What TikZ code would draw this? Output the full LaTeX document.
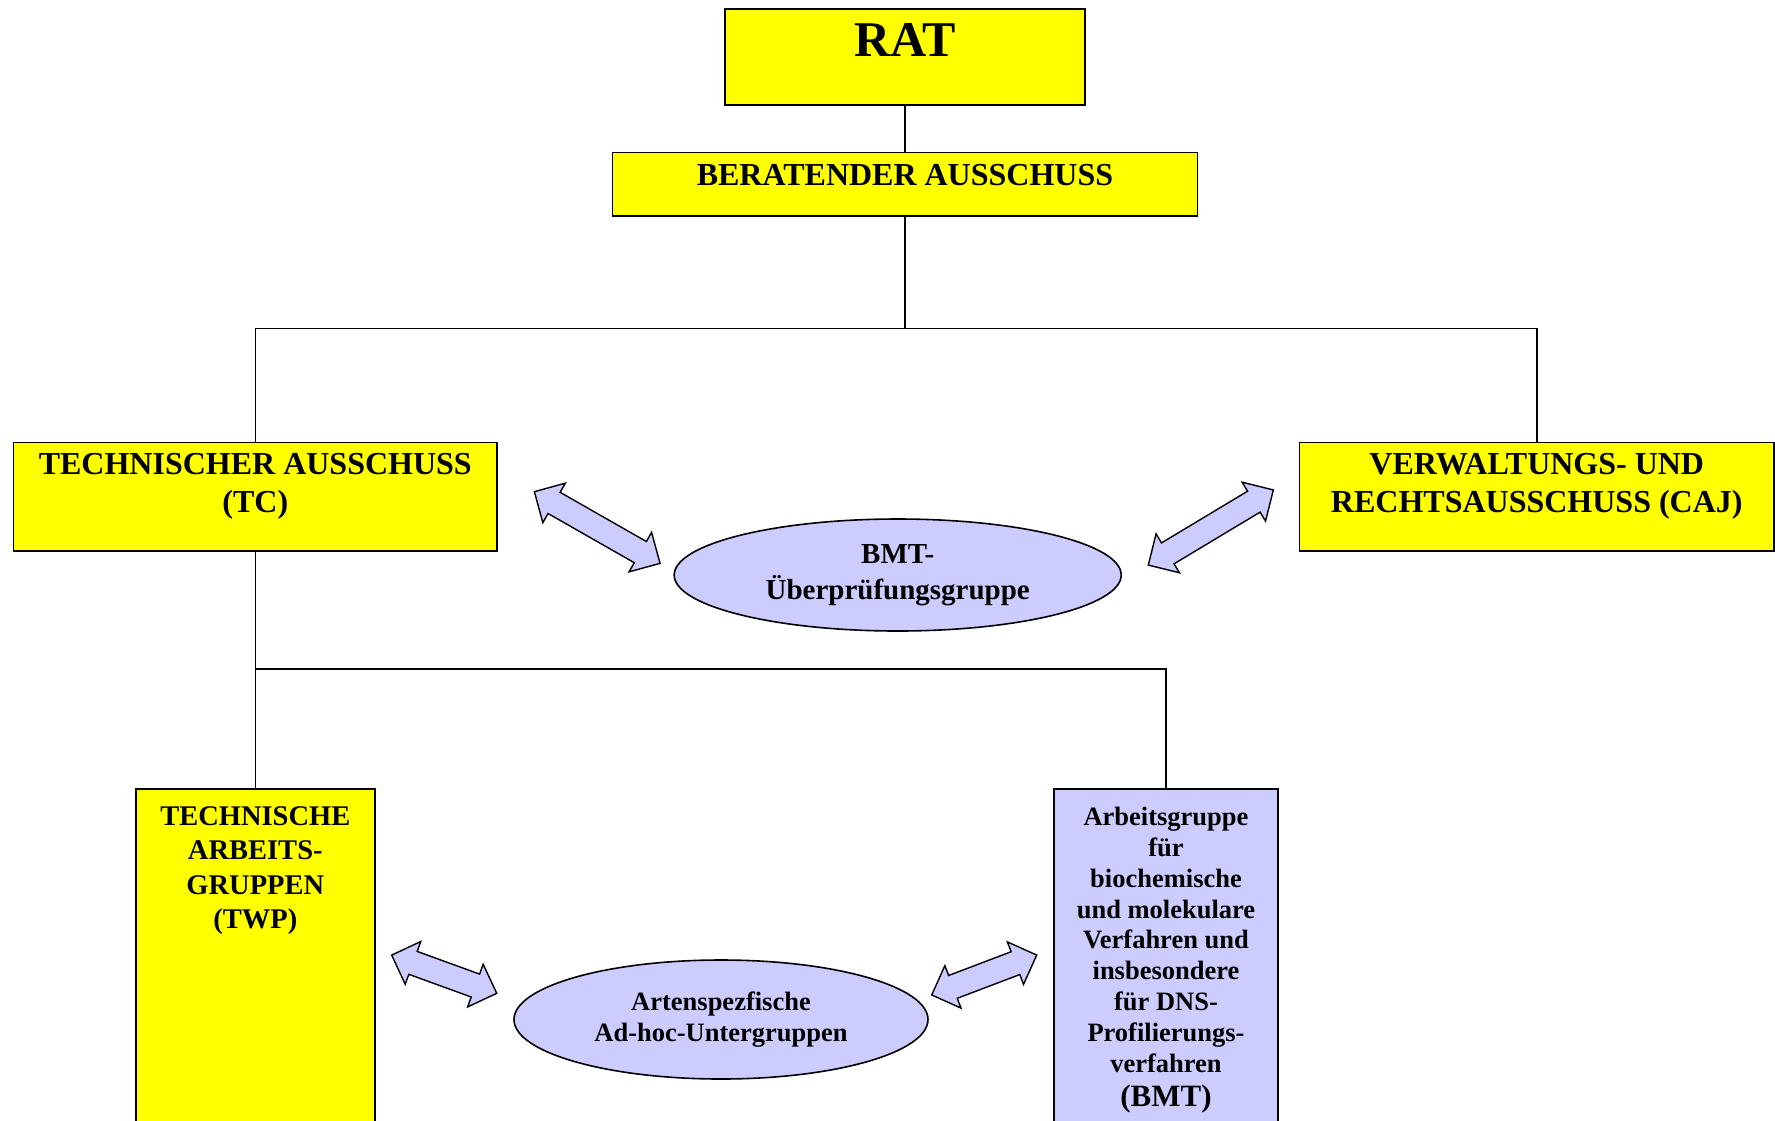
\documentclass[tikz,border=0pt]{standalone}
\usepackage{fontspec}
\setmainfont{Liberation Serif}
\usepackage{tikz}
\usetikzlibrary{shapes.geometric,shapes.arrows}
\definecolor{gelb}{RGB}{255,255,0}
\definecolor{lila}{RGB}{204,204,255}
\tikzset{
  ybox/.style={draw, line width=1.6pt, fill=gelb, inner sep=0pt, anchor=north},
  lbox/.style={draw, line width=1.6pt, fill=lila, inner sep=0pt, anchor=north},
  oval/.style={ellipse, draw, line width=1.6pt, fill=lila, inner sep=0pt, align=center},
  dblarr/.style={double arrow, draw, line width=1.4pt, fill=lila, inner xsep=0pt,
    inner ysep=11.5pt, minimum width=23pt, double arrow head extend=10.5pt},
  boxtxt/.style={anchor=north, align=center, inner sep=0pt},
  conn/.style={line width=1.4pt}
}
\begin{document}
\begin{tikzpicture}[x=1pt,y=-1pt]
\clip (0,0) rectangle (1775,1120);
\node[ybox, minimum width=360pt, minimum height=96pt] (rat) at (905,8) {};
\node[ybox, minimum width=585pt, minimum height=63.5pt] (ber) at (905,151.7) {};
\node[ybox, minimum width=483.4pt, minimum height=108.7pt] (tc) at (255.3,441.5) {};
\node[ybox, minimum width=474.4pt, minimum height=108.7pt] (caj) at (1536.8,441.5) {};
\node[ybox, minimum width=239pt, minimum height=360pt] (twp) at (255.3,788) {};
\node[lbox, minimum width=224.5pt, minimum height=360pt] (bmt) at (1166,788) {};

\node[boxtxt, font=\fontsize{50}{56}\selectfont\bfseries] (rat-t) at (905,23.5) {RAT};
\node[boxtxt, font=\fontsize{32}{38}\selectfont\bfseries] (ber-t) at (905,164.3) {BERATENDER AUSSCHUSS};
\node[boxtxt, font=\fontsize{32}{38}\selectfont\bfseries] (tc-t) at (255.3,452.9) {TECHNISCHER AUSSCHUSS\\(TC)};
\node[boxtxt, font=\fontsize{32}{38}\selectfont\bfseries] (caj-t) at (1536.8,452.9) {VERWALTUNGS- UND\\RECHTSAUSSCHUSS (CAJ)};
\node[boxtxt, font=\fontsize{28.5}{34.2}\selectfont\bfseries] (twp-t) at (255.3,806.7) {TECHNISCHE\\ARBEITS-\\GRUPPEN\\(TWP)};
\node[boxtxt, font=\fontsize{26.5}{30.9}\selectfont\bfseries] (bmt-t) at (1166,806.7) {Arbeitsgruppe\\f\"ur\\biochemische\\und molekulare\\Verfahren und\\insbesondere\\f\"ur DNS-\\Profilierungs-\\verfahren\\[3pt]{\fontsize{31}{31}\selectfont (BMT)}};

\node[oval, minimum width=447pt, minimum height=112pt, font=\fontsize{29}{36}\selectfont\bfseries] (rev) at (897.7,575) {BMT-\\Überprüfungsgruppe};
\node[oval, minimum width=414pt, minimum height=119pt, font=\fontsize{26.5}{31.7}\selectfont\bfseries] (adhoc) at (721,1019.5) {Artenspezfische\\Ad-hoc-Untergruppen};

\node[dblarr, minimum height=144.7pt, rotate=-29.7] (pf1) at (597.2,527.5) {};
\node[dblarr, minimum height=145.8pt, rotate=31] (pf2) at (1210.8,527.5) {};
\node[dblarr, minimum height=111.8pt, rotate=-20] (pf3) at (444.2,974.2) {};
\node[dblarr, minimum height=112.3pt, rotate=20.8] (pf4) at (984.2,975) {};

\coordinate (j1) at (905,328.3);
\coordinate (j2) at (255.3,669);
\draw[conn] (rat.south) -- (ber.north);
\draw[conn] (ber.south) -- (j1);
\draw[conn] (tc.north) |- (j1) -| (caj.north);
\draw[conn] (tc.south) -- (twp.north);
\draw[conn] (j2) -| (bmt.north);
\end{tikzpicture}
\end{document}
